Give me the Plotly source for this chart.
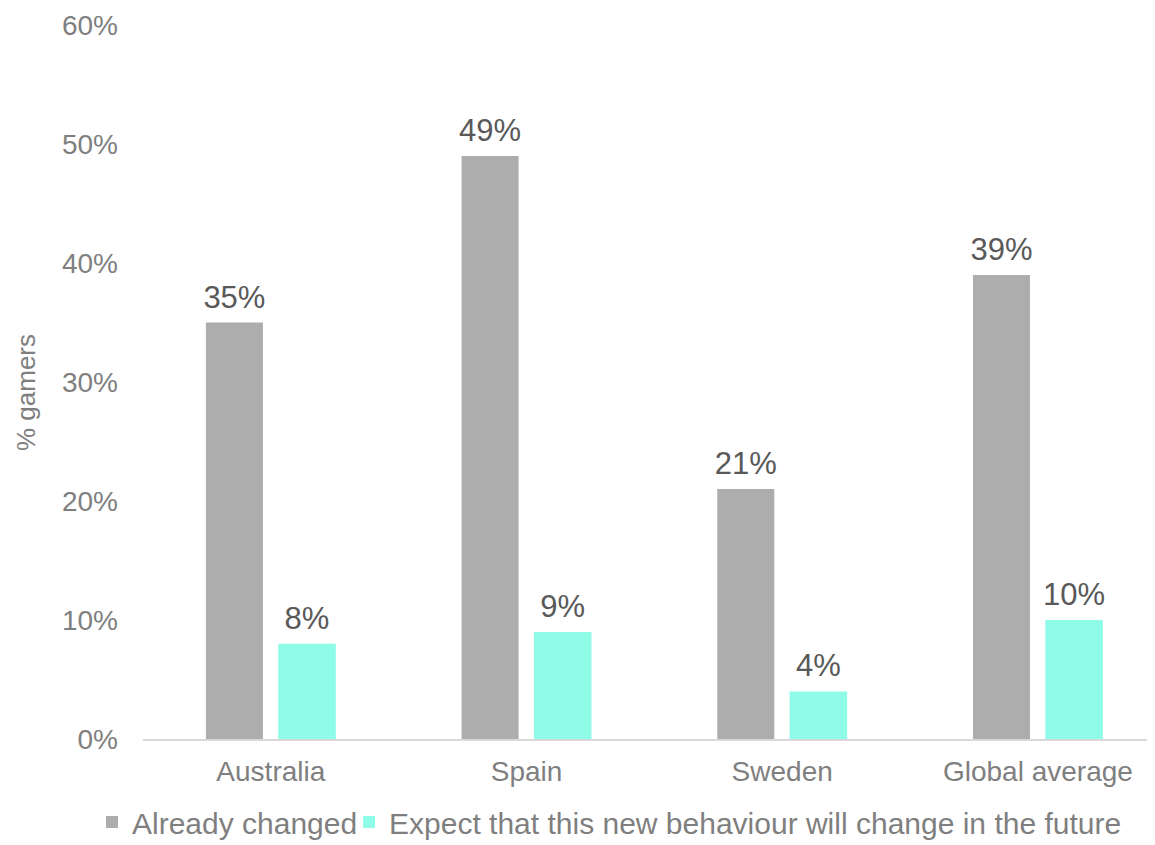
import plotly.graph_objects as go

categories = ["Australia", "Spain", "Sweden", "Global average"]
already_changed = [0.35, 0.49, 0.21, 0.39]
expect_change = [0.08, 0.09, 0.04, 0.10]
series_names = ["Already changed", "Expect that this new behaviour will change in the future"]
y_ticks = [0, 0.1, 0.2, 0.3, 0.4, 0.5, 0.6]

FONT = "Liberation Sans, Arial, sans-serif"
GREY = "#ADADAD"
TEAL = "#8FFCE7"
LABEL = "#595959"
AXIS_TXT = "#7F7F7F"

x_idx = list(range(len(categories)))
W1, O1 = 0.223, -0.254
W2, O2 = 0.225, 0.029

fig = go.Figure()
fig.add_trace(go.Bar(
    x=x_idx, y=already_changed, name=series_names[0], legend="legend",
    marker=dict(color=GREY, line=dict(width=0)),
    width=W1, offset=O1, hoverinfo="y",
))
fig.add_trace(go.Bar(
    x=x_idx, y=expect_change, name=series_names[1], legend="legend2",
    marker=dict(color=TEAL, line=dict(width=0)),
    width=W2, offset=O2, hoverinfo="y",
))
# data labels
for vals, w, o in [(already_changed, W1, O1), (expect_change, W2, O2)]:
    fig.add_trace(go.Scatter(
        x=[i + o + w / 2 for i in x_idx], y=vals, mode="markers+text",
        marker=dict(size=10, opacity=0),
        text=[f"{v*100:.0f}%" for v in vals], textposition="top center",
        textfont=dict(family=FONT, size=31, color=LABEL),
        showlegend=False, hoverinfo="skip", cliponaxis=False,
    ))

fig.update_layout(
    width=1147, height=837,
    barmode="overlay",
    plot_bgcolor="white", paper_bgcolor="white",
    margin=dict(l=135, r=0, t=17, b=106, autoexpand=False),
    font=dict(family=FONT, size=28, color=AXIS_TXT),
    showlegend=True,
    legend=dict(x=-0.0504, xanchor="left", y=-0.1162, yanchor="middle",
                font=dict(family=FONT, size=30, color=AXIS_TXT),
                itemwidth=30, bgcolor="rgba(0,0,0,0)"),
    legend2=dict(x=0.2036, xanchor="left", y=-0.1162, yanchor="middle",
                 font=dict(family=FONT, size=30, color=AXIS_TXT),
                 itemwidth=30, bgcolor="rgba(0,0,0,0)"),
    xaxis=dict(
        tickmode="array", tickvals=x_idx, ticktext=categories,
        range=[-0.5, 3.458], showgrid=False, zeroline=False,
        showline=True, linecolor="#D9D9D9", linewidth=1.5,
        ticks="", tickfont=dict(family=FONT, size=28, color=AXIS_TXT),
        ticklabeloverflow="allow", ticklabelstandoff=7,
    ),
    yaxis=dict(
        range=[0, 0.6], tickvals=y_ticks, tickformat=".0%",
        showgrid=False, zeroline=False, showline=False, ticks="",
        tickfont=dict(family=FONT, size=28, color=AXIS_TXT),
        ticklabeloverflow="allow", ticklabelstandoff=24,
    ),
    annotations=[dict(
        text="% gamers", textangle=-90, xref="paper", yref="paper",
        x=-0.1156, y=0.4846, xanchor="center", yanchor="middle", showarrow=False,
        font=dict(family=FONT, size=26, color=AXIS_TXT),
    )],
)

fig.write_html("out.html")
